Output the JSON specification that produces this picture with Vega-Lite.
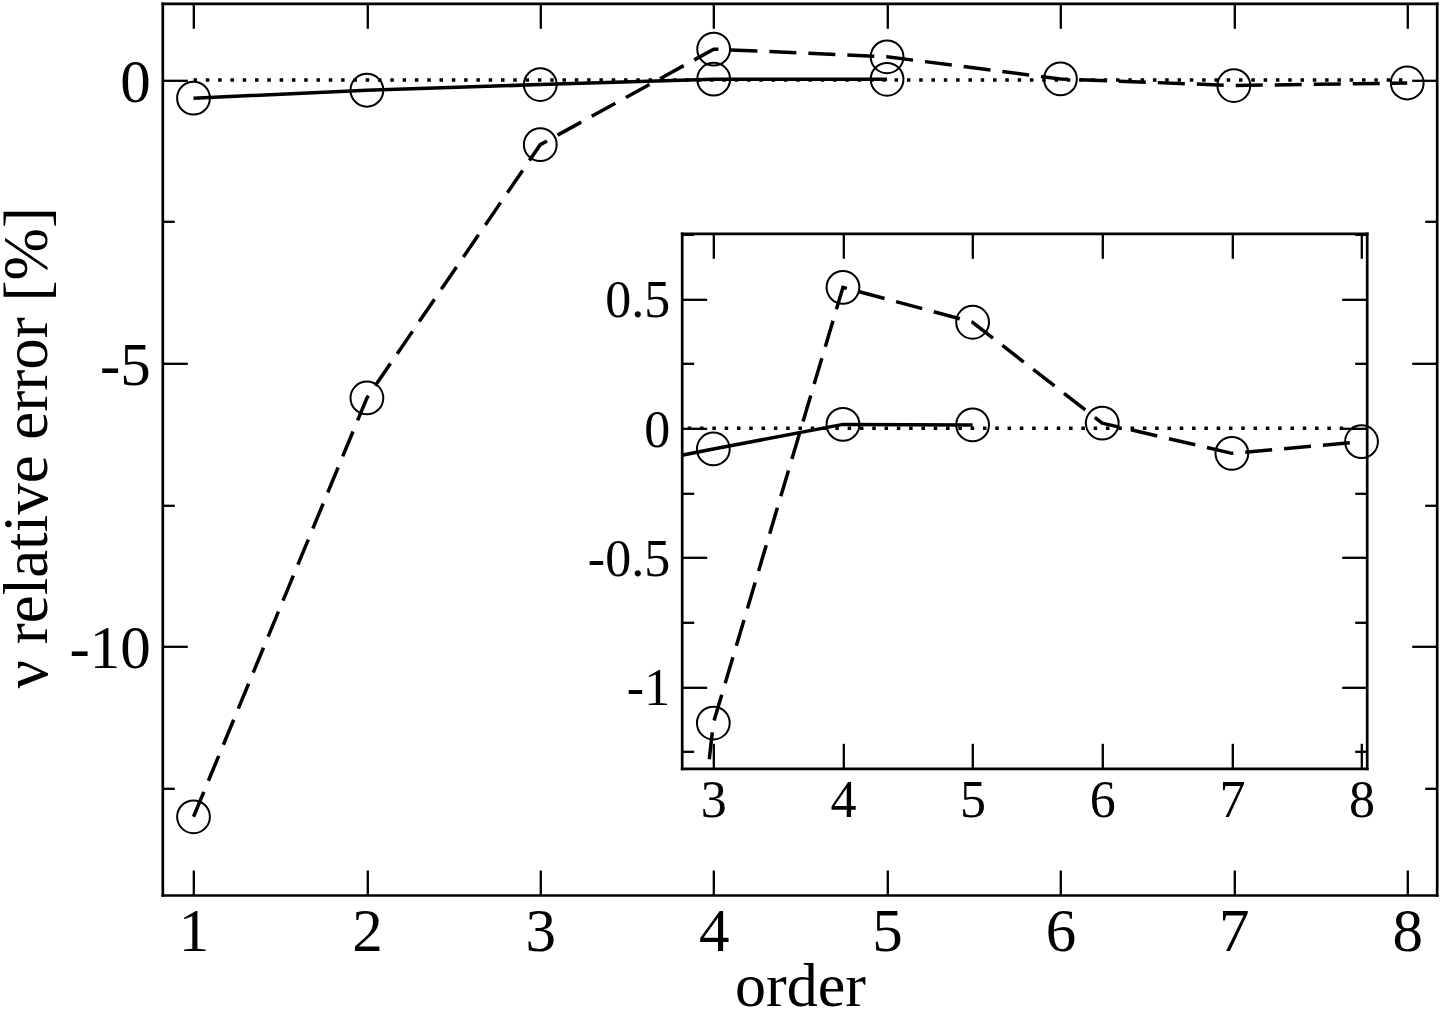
{
  "$schema": "https://vega.github.io/schema/vega-lite/v6.json",
  "autosize": "none",
  "padding": {"left": 162.3, "top": 3.3, "right": 5.3, "bottom": 117},
  "width": 1274.4,
  "height": 891.7,
  "config": {
    "font": "Liberation Serif",
    "view": {"stroke": null},
    "axis": {
      "grid": false,
      "domainColor": "black",
      "domainWidth": 2.7,
      "domainCap": "square",
      "tickColor": "black",
      "tickWidth": 2.3,
      "labelColor": "black",
      "titleColor": "black",
      "labelFont": "Liberation Serif",
      "titleFont": "Liberation Serif",
      "titleFontWeight": "normal",
      "labelFlush": false,
      "labelOverlap": false,
      "labelBound": false
    }
  },
  "data": {
    "values": [
      {"order": 1, "err": -0.32, "series": "solid"},
      {"order": 2, "err": -0.18, "series": "solid"},
      {"order": 3, "err": -0.08, "series": "solid"},
      {"order": 4, "err": 0.015, "series": "solid"},
      {"order": 5, "err": 0.013, "series": "solid"},
      {"order": 1, "err": -13.0, "series": "dashed"},
      {"order": 2, "err": -5.61, "series": "dashed"},
      {"order": 3, "err": -1.14, "series": "dashed"},
      {"order": 4, "err": 0.545, "series": "dashed"},
      {"order": 5, "err": 0.41, "series": "dashed"},
      {"order": 6, "err": 0.02, "series": "dashed"},
      {"order": 7, "err": -0.097, "series": "dashed"},
      {"order": 8, "err": -0.052, "series": "dashed"}
    ]
  },
  "layer": [
    {
      "layer": [
        {
          "data": {"values": [{}]},
          "mark": {"type": "rule", "color": "black", "strokeWidth": 3.5, "strokeDash": [3.5, 8.8], "strokeCap": "butt"},
          "encoding": {
            "x": {
              "datum": 1, "type": "quantitative",
              "scale": {"domain": [0.82, 8.17], "nice": false, "zero": false},
              "axis": {
                "orient": "bottom", "values": [1, 2, 3, 4, 5, 6, 7, 8], "tickSize": -25,
                "labelFontSize": 61, "labelPadding": 32.5,
                "title": "order", "titleFontSize": 62, "titleBaseline": "alphabetic",
                "titleX": 637.7, "titleY": 110
              }
            },
            "x2": {"datum": 8},
            "y": {
              "datum": 0, "type": "quantitative",
              "scale": {"domain": [-14.38, 1.354], "nice": false, "zero": false},
              "axis": {
                "orient": "left", "values": [-10, -5, 0], "tickSize": -25,
                "labelFontSize": 61, "labelPadding": 37, "labelOffset": 3,
                "labelExpr": "'' + datum.value",
                "title": "ν relative error [%]", "titleFontSize": 63, "titleBaseline": "alphabetic",
                "titleX": -116.3, "titleY": 444
              }
            }
          }
        },
        {
          "transform": [{"filter": "datum.series == 'solid'"}],
          "mark": {"type": "line", "color": "black", "strokeWidth": 3.5},
          "encoding": {
            "x": {
              "field": "order", "type": "quantitative",
              "scale": {"domain": [0.82, 8.17], "nice": false, "zero": false},
              "axis": {"orient": "top", "values": [1, 2, 3, 4, 5, 6, 7, 8], "tickSize": -25, "labels": false, "title": null}
            },
            "y": {
              "field": "err", "type": "quantitative",
              "scale": {"domain": [-14.38, 1.354], "nice": false, "zero": false},
              "axis": {"orient": "right", "values": [-10, -5, 0], "tickSize": -25, "labels": false, "title": null}
            }
          }
        },
        {
          "transform": [{"filter": "datum.series == 'dashed'"}],
          "mark": {"type": "line", "color": "black", "strokeWidth": 3.5, "strokeDash": [27, 12], "strokeCap": "butt"},
          "encoding": {
            "x": {
              "field": "order", "type": "quantitative",
              "scale": {"domain": [0.82, 8.17], "nice": false, "zero": false},
              "axis": null
            },
            "y": {
              "field": "err", "type": "quantitative",
              "scale": {"domain": [-14.38, 1.354], "nice": false, "zero": false},
              "axis": {"orient": "left", "values": [-12.5, -7.5, -2.5], "tickSize": -12, "labels": false, "domain": false, "title": null}
            }
          }
        },
        {
          "mark": {"type": "point", "shape": "circle", "filled": false, "color": "black", "opacity": 1, "strokeWidth": 2, "size": 1075},
          "encoding": {
            "x": {
              "field": "order", "type": "quantitative",
              "scale": {"domain": [0.82, 8.17], "nice": false, "zero": false},
              "axis": null
            },
            "y": {
              "field": "err", "type": "quantitative",
              "scale": {"domain": [-14.38, 1.354], "nice": false, "zero": false},
              "axis": {"orient": "right", "values": [-12.5, -7.5, -2.5], "tickSize": -12, "labels": false, "domain": false, "title": null}
            }
          }
        }
      ],
      "resolve": {"axis": {"x": "independent", "y": "independent"}}
    },
    {
      "layer": [
        {
          "data": {"values": [{}]},
          "mark": {"type": "rule", "color": "black", "strokeWidth": 3.5, "strokeDash": [3.5, 8.8], "strokeCap": "butt",
                   "clip": {"signal": "pathShape('M519.4,230H1204.4V765H519.4Z')"}},
          "encoding": {
            "x": {
              "datum": 1, "type": "quantitative",
              "scale": {"domain": [2.756, 8.04], "range": [519.4, 1204.4], "nice": false, "zero": false},
              "axis": {
                "orient": "bottom", "offset": -126.7, "values": [3, 4, 5, 6, 7, 8], "tickSize": -25,
                "labelFontSize": 52, "labelPadding": 32.5, "title": null
              }
            },
            "x2": {"datum": 8},
            "y": {
              "datum": 0, "type": "quantitative",
              "scale": {"domain": [-1.315, 0.754], "range": [765, 230], "nice": false, "zero": false},
              "axis": {
                "orient": "left", "offset": -519.4, "values": [-1, -0.5, 0, 0.5], "tickSize": -25,
                "labelFontSize": 52, "labelPadding": 37, "labelOffset": 2,
                "labelExpr": "'' + datum.value", "title": null
              }
            }
          }
        },
        {
          "transform": [{"filter": "datum.series == 'solid'"}],
          "mark": {"type": "line", "color": "black", "strokeWidth": 3.5,
                   "clip": {"signal": "pathShape('M519.4,230H1204.4V765H519.4Z')"}},
          "encoding": {
            "x": {
              "field": "order", "type": "quantitative",
              "scale": {"domain": [2.756, 8.04], "range": [519.4, 1204.4], "nice": false, "zero": false},
              "axis": {"orient": "top", "offset": -230, "values": [3, 4, 5, 6, 7, 8], "tickSize": -25, "labels": false, "title": null}
            },
            "y": {
              "field": "err", "type": "quantitative",
              "scale": {"domain": [-1.315, 0.754], "range": [765, 230], "nice": false, "zero": false},
              "axis": {"orient": "right", "offset": -70, "values": [-1, -0.5, 0, 0.5], "tickSize": -25, "labels": false, "title": null}
            }
          }
        },
        {
          "transform": [{"filter": "datum.series == 'dashed'"}],
          "mark": {"type": "line", "color": "black", "strokeWidth": 3.5, "strokeDash": [27, 12], "strokeCap": "butt",
                   "clip": {"signal": "pathShape('M519.4,230H1204.4V765H519.4Z')"}},
          "encoding": {
            "x": {
              "field": "order", "type": "quantitative",
              "scale": {"domain": [2.756, 8.04], "range": [519.4, 1204.4], "nice": false, "zero": false},
              "axis": null
            },
            "y": {
              "field": "err", "type": "quantitative",
              "scale": {"domain": [-1.315, 0.754], "range": [765, 230], "nice": false, "zero": false},
              "axis": {"orient": "left", "offset": -519.4, "values": [-1.25, -0.75, -0.25, 0.25, 0.75], "tickSize": -12, "labels": false, "domain": false, "title": null}
            }
          }
        },
        {
          "transform": [{"filter": "datum.order >= 3"}],
          "mark": {"type": "point", "shape": "circle", "filled": false, "color": "black", "opacity": 1, "strokeWidth": 2, "size": 1075},
          "encoding": {
            "x": {
              "field": "order", "type": "quantitative",
              "scale": {"domain": [2.756, 8.04], "range": [519.4, 1204.4], "nice": false, "zero": false},
              "axis": null
            },
            "y": {
              "field": "err", "type": "quantitative",
              "scale": {"domain": [-1.315, 0.754], "range": [765, 230], "nice": false, "zero": false},
              "axis": {"orient": "right", "offset": -70, "values": [-1.25, -0.75, -0.25, 0.25, 0.75], "tickSize": -12, "labels": false, "domain": false, "title": null}
            }
          }
        }
      ],
      "resolve": {"axis": {"x": "independent", "y": "independent"}}
    }
  ],
  "resolve": {
    "scale": {"x": "independent", "y": "independent"},
    "axis": {"x": "independent", "y": "independent"}
  }
}
